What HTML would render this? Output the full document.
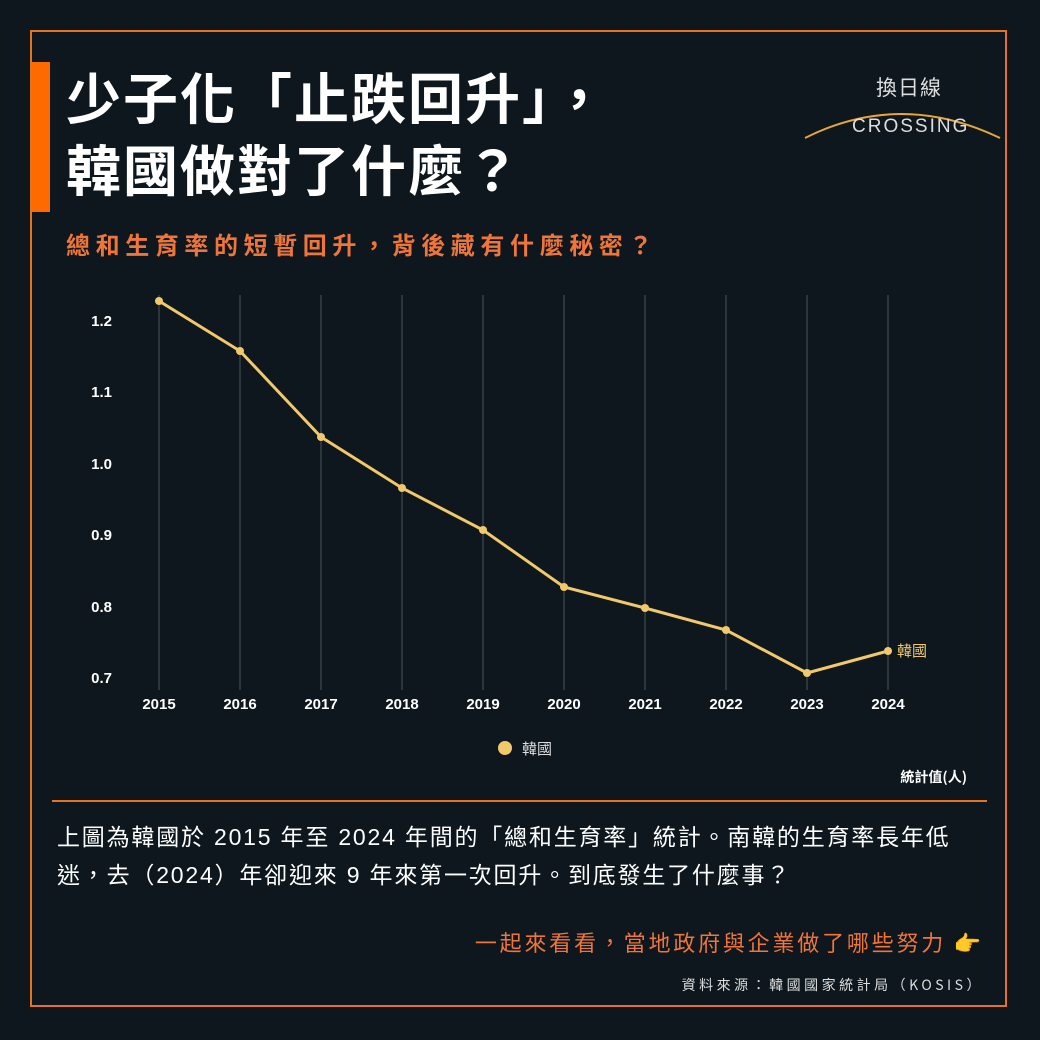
<!DOCTYPE html>
<html><head><meta charset="utf-8"><style>
body{margin:0;width:1040px;height:1040px;background:#0d171d;position:relative;overflow:hidden;font-family:"Liberation Sans","Noto Sans CJK TC",sans-serif;color:#fff}
.abs{position:absolute;white-space:nowrap}
</style></head><body>
<div class="abs" style="left:30px;top:30px;width:977px;height:977px;border:2px solid #e8731f;box-sizing:border-box"></div>
<div class="abs" style="left:32px;top:62px;width:18px;height:150px;background:#ff6a00"></div>
<div class="abs" style="left:66px;top:59px;font-size:55px;font-weight:bold;line-height:72px;letter-spacing:2px;font-family:'Noto Sans CJK TC',sans-serif">少子化「止跌回升」，<br>韓國做對了什麼？</div>
<div class="abs" style="left:66px;top:226px;font-size:24px;font-weight:bold;letter-spacing:5.6px;color:#f0753a;font-family:'Noto Sans CJK TC',sans-serif">總和生育率的短暫回升，背後藏有什麼秘密？</div>
<div class="abs" style="left:876px;top:72px;font-size:21px;color:#ddd;font-family:'Noto Sans CJK TC',sans-serif;letter-spacing:1px">換日線</div>
<svg class="abs" style="left:800px;top:100px" width="210" height="45"><path d="M5 38 Q100 -10 200 38" fill="none" stroke="#e8a63a" stroke-width="2"/></svg>
<div class="abs" style="left:852px;top:116px;font-size:19px;color:#ddd;letter-spacing:2px">CROSSING</div>
<svg class="abs" style="left:0;top:0" width="1040" height="800">
<g stroke="#4a545b" stroke-width="1">
<line x1="159" y1="295" x2="159" y2="690"/><line x1="240" y1="295" x2="240" y2="690"/><line x1="321" y1="295" x2="321" y2="690"/><line x1="402" y1="295" x2="402" y2="690"/><line x1="483" y1="295" x2="483" y2="690"/><line x1="564" y1="295" x2="564" y2="690"/><line x1="645" y1="295" x2="645" y2="690"/><line x1="726" y1="295" x2="726" y2="690"/><line x1="807" y1="295" x2="807" y2="690"/><line x1="888" y1="295" x2="888" y2="690"/>
</g>
<g fill="#fff" font-size="15" font-weight="bold" font-family="Liberation Sans,sans-serif">
<text x="112" y="326" text-anchor="end">1.2</text><text x="112" y="397" text-anchor="end">1.1</text><text x="112" y="469" text-anchor="end">1.0</text><text x="112" y="540" text-anchor="end">0.9</text><text x="112" y="612" text-anchor="end">0.8</text><text x="112" y="683" text-anchor="end">0.7</text>
<g text-anchor="middle"><text x="159" y="709">2015</text><text x="240" y="709">2016</text><text x="321" y="709">2017</text><text x="402" y="709">2018</text><text x="483" y="709">2019</text><text x="564" y="709">2020</text><text x="645" y="709">2021</text><text x="726" y="709">2022</text><text x="807" y="709">2023</text><text x="888" y="709">2024</text></g>
</g>
<polyline points="159,301 240,351 321,437 402,488 483,530 564,587 645,608 726,630 807,673 888,651" fill="none" stroke="#f2c96a" stroke-width="3"/>
<g fill="#f2c96a"><circle cx="159" cy="301" r="4"/><circle cx="240" cy="351" r="4"/><circle cx="321" cy="437" r="4"/><circle cx="402" cy="488" r="4"/><circle cx="483" cy="530" r="4"/><circle cx="564" cy="587" r="4"/><circle cx="645" cy="608" r="4"/><circle cx="726" cy="630" r="4"/><circle cx="807" cy="673" r="4"/><circle cx="888" cy="651" r="4"/>
<circle cx="505" cy="748" r="7"/></g>
<text x="897" y="656" fill="#f2c96a" font-size="15" font-family="Noto Sans CJK TC,sans-serif">韓國</text>
<text x="522" y="754" fill="#ddd" font-size="15" font-family="Noto Sans CJK TC,sans-serif">韓國</text>
<text x="967" y="782" fill="#fff" font-size="14" font-weight="bold" text-anchor="end" font-family="Noto Sans CJK TC,sans-serif">統計值(人)</text>
</svg>
<div class="abs" style="left:52px;top:800px;width:935px;height:2px;background:#e8731f"></div>
<div class="abs" style="left:57px;top:818px;width:935px;font-size:23px;letter-spacing:1.8px;line-height:38px;white-space:normal;color:#fff;font-family:'Liberation Sans','Noto Sans CJK TC',sans-serif">上圖為韓國於 2015 年至 2024 年間的「總和生育率」統計。南韓的生育率長年低迷，去（2024）年卻迎來 9 年來第一次回升。到底發生了什麼事？</div>
<div class="abs" style="right:56px;top:926px;font-size:22px;letter-spacing:2.8px;color:#f0753a;font-family:'Noto Sans CJK TC',sans-serif">一起來看看，當地政府與企業做了哪些努力 👉</div>
<div class="abs" style="right:56px;top:975px;font-size:14px;color:#ddd;letter-spacing:3.5px;font-family:'Noto Sans CJK TC',sans-serif">資料來源：韓國國家統計局（KOSIS）</div>
</body></html>
